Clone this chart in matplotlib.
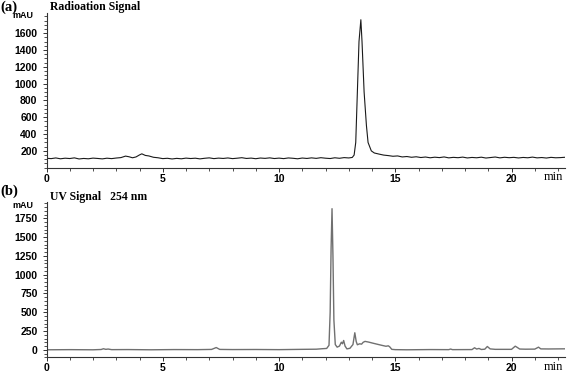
import numpy as np
import matplotlib
matplotlib.use('Agg')
import matplotlib.pyplot as plt
from matplotlib.ticker import MultipleLocator, FixedLocator

# (a) radioactivity trace
rad_time = [0.0, 0.2, 0.4, 0.6, 0.8, 1.0, 1.2, 1.4, 1.6, 1.8,
            2.0, 2.2, 2.4, 2.6, 2.8, 3.0, 3.2, 3.4, 3.55, 3.7,
            3.85, 4.0, 4.1, 4.25, 4.4, 4.6, 4.8, 5.0, 5.2, 5.4,
            5.6, 5.8, 6.0, 6.2, 6.4, 6.6, 6.8, 7.0, 7.2, 7.4,
            7.6, 7.8, 8.0, 8.2, 8.4, 8.6, 8.8, 9.0, 9.2, 9.4,
            9.6, 9.8, 10.0, 10.2, 10.4, 10.6, 10.8, 11.0, 11.2, 11.4,
            11.6, 11.8, 12.0, 12.2, 12.4, 12.6, 12.8, 13.0, 13.15, 13.23,
            13.3, 13.37, 13.44, 13.52, 13.57, 13.66, 13.76, 13.83, 13.97, 14.1,
            14.3, 14.5, 14.7, 14.9, 15.1, 15.3, 15.5, 15.7, 15.9, 16.1,
            16.3, 16.5, 16.7, 16.9, 17.1, 17.3, 17.5, 17.7, 17.9, 18.1,
            18.3, 18.5, 18.7, 18.9, 19.1, 19.3, 19.5, 19.7, 19.9, 20.1,
            20.3, 20.5, 20.7, 20.9, 21.1, 21.3, 21.5, 21.7, 21.9, 22.1, 22.3]
rad_mau = [112, 108, 116, 106, 113, 109, 117, 104, 110, 106,
           114, 110, 105, 113, 108, 115, 120, 138, 130, 118,
           128, 152, 165, 146, 140, 124, 118, 108, 112, 104,
           111, 106, 114, 109, 113, 105, 112, 117, 108, 114,
           110, 116, 108, 113, 119, 110, 114, 107, 115, 111,
           117, 109, 114, 108, 116, 112, 106, 115, 110, 117,
           111, 119, 113, 109, 118, 112, 120, 116, 122, 150,
           300, 900, 1500, 1760, 1500, 900, 500, 300, 200, 175,
           162, 150, 144, 136, 140, 128, 133, 124, 130, 121,
           127, 118, 125, 120, 128, 117, 123, 119, 126, 116,
           122, 118, 125, 115, 121, 127, 117, 124, 119, 123,
           116, 122, 118, 126, 117, 121, 115, 123, 118, 120, 124]

# (b) UV trace at 254 nm
uv_time = [0.0, 1.0, 2.0, 2.35, 2.45, 2.55, 2.65, 2.8, 3.5, 4.5,
           5.5, 6.5, 7.1, 7.3, 7.45, 8.0, 9.0, 10.0, 11.0, 11.6,
           11.85, 12.05, 12.15, 12.2, 12.24, 12.28, 12.32, 12.36, 12.42, 12.5,
           12.6, 12.68, 12.73, 12.78, 12.84, 12.92, 13.05, 13.18, 13.26, 13.32,
           13.37, 13.47, 13.55, 13.62, 13.7, 13.85, 14.04, 14.2, 14.4, 14.6,
           14.7, 14.76, 14.85, 15.0, 15.5, 16.5, 17.3, 17.38, 17.46, 18.3,
           18.41, 18.5, 18.6, 18.7, 18.85, 18.96, 19.08, 19.3, 20.0, 20.16,
           20.23, 20.35, 20.6, 21.0, 21.16, 21.26, 21.6, 22.3]
uv_mau = [0, 2, 0, 4, 14, 6, 10, 2, 3, 0,
          3, 2, 5, 30, 5, 3, 4, 2, 6, 8,
          14, 18, 60, 500, 1350, 1880, 1250, 400, 70, 35,
          50, 101, 80, 124, 50, 12, 20, 70, 227, 110,
          67, 80, 75, 100, 112, 103, 88, 76, 61, 47,
          53, 40, 6, 2, 0, 3, 2, 10, 2, 3,
          27, 10, 18, 4, 8, 44, 12, 6, 6, 48,
          35, 10, 8, 9, 35, 12, 11, 13]

W, H = 567, 374
fig = plt.figure(figsize=(W / 100, H / 100), dpi=100)


def px_rect(x0, y_top, x1, y_bot):
    """axes rect from pixel box"""
    return [x0 / W, 1 - y_bot / H, (x1 - x0) / W, (y_bot - y_top) / H]


def style_axis(ax, major_y, ylim):
    for s in ['top', 'right']:
        ax.spines[s].set_visible(False)
    for s in ['left', 'bottom']:
        ax.spines[s].set_color('#333333')
        ax.spines[s].set_linewidth(0.8)
    ax.set_xlim(0, 22.3)
    ax.set_ylim(*ylim)
    ax.set_xticks([0, 5, 10, 15, 20])
    ax.xaxis.set_minor_locator(MultipleLocator(1))
    ax.yaxis.set_minor_locator(MultipleLocator(50))
    ax.yaxis.set_major_locator(FixedLocator(major_y))
    ax.tick_params(which='major', direction='out', length=3, width=0.7,
                   color='#333333', labelsize=7.5)
    ax.tick_params(which='minor', direction='out', length=2, width=0.6,
                   color='#333333')
    ax.tick_params(axis='x', which='major', pad=1.2)
    ax.tick_params(axis='y', which='major', pad=3.5)
    for lab in ax.get_xticklabels() + ax.get_yticklabels():
        lab.set_fontfamily('Liberation Sans')
        lab.set_fontweight('bold')


# top panel
ax1 = fig.add_axes(px_rect(46.5, 13, 565, 167.7))
ax1.plot(rad_time, rad_mau, color='#1a1a1a', lw=0.8)
style_axis(ax1, [200, 400, 600, 800, 1000, 1200, 1400, 1600], (0, 1840))

# bottom panel
ax2 = fig.add_axes(px_rect(46.5, 201.7, 565, 357.3))
ax2.plot(uv_time, uv_mau, color='#707070', lw=1.0)
style_axis(ax2, [0, 250, 500, 750, 1000, 1250, 1500, 1750], (-100, 1973))

# labels and titles
for y_px in [177, 367]:
    fig.text(553 / W, 1 - y_px / H, 'min', fontsize=9,
             family='Liberation Serif', ha='center', va='center')
fig.text(33 / W, 1 - 15 / H, 'mAU', fontsize=6.5, fontweight='bold',
         family='Liberation Sans', ha='right', va='center')
fig.text(33 / W, 1 - 206 / H, 'mAU', fontsize=6.5, fontweight='bold',
         family='Liberation Sans', ha='right', va='center')
fig.text(0, 1 - 7 / H, '(a)', fontsize=10.5, fontweight='bold',
         family='Liberation Serif', ha='left', va='center')
fig.text(0, 1 - 191 / H, '(b)', fontsize=10.5, fontweight='bold',
         family='Liberation Serif', ha='left', va='center')
fig.text(50 / W, 1 - 7 / H, 'Radioation Signal', fontsize=8.5, fontweight='bold',
         family='Liberation Serif', ha='left', va='center')
fig.text(50 / W, 1 - 197 / H, 'UV Signal   254 nm', fontsize=8.5, fontweight='bold',
         family='Liberation Serif', ha='left', va='center')

fig.savefig('out.png', dpi=100)
